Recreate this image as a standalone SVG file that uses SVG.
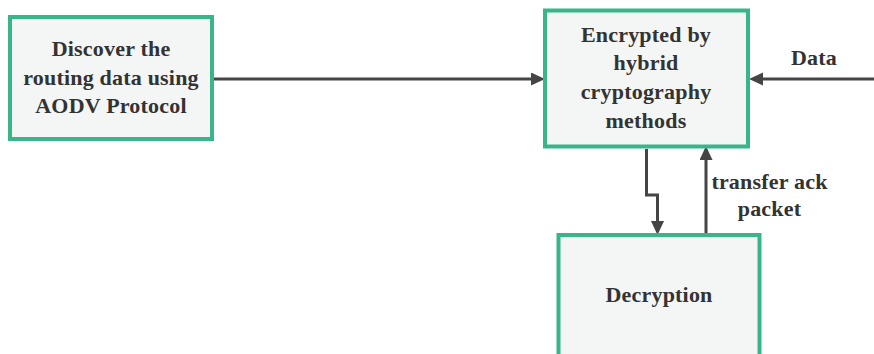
<svg xmlns="http://www.w3.org/2000/svg" width="874" height="354" viewBox="0 0 874 354">
<style>
.box{fill:#f3f6f5;stroke:#38b68a;stroke-width:4}
.t{font-family:"Liberation Serif","Times New Roman",serif;font-weight:bold;font-size:22px;letter-spacing:0.2px;fill:#333;text-anchor:middle}
.c{fill:none;stroke:#454545;stroke-width:3}
</style>
<defs>
<marker id="ah" markerUnits="userSpaceOnUse" markerWidth="16" markerHeight="14" refX="1" refY="6.5" orient="auto">
<path d="M0,0 L14,6.5 L0,13 z" fill="#454545"/>
</marker>
</defs>
<rect width="874" height="354" fill="#ffffff"/>
<g id="connectors">
<path class="c" d="M214,79 H532" marker-end="url(#ah)"/>
<path class="c" d="M874,79 H762" marker-end="url(#ah)"/>
<path class="c" d="M646.5,149 V195 H657.5 V222" marker-end="url(#ah)"/>
<path class="c" d="M706,235 V159" marker-end="url(#ah)"/>
</g>
<g id="discover">
<rect class="box" x="10" y="17" width="202" height="122"/>
<text class="t" x="111" y="56">Discover the</text>
<text class="t" x="111" y="85">routing data using</text>
<text class="t" x="111" y="113">AODV Protocol</text>
</g>
<g id="encrypt">
<rect class="box" x="545" y="10.5" width="203" height="136"/>
<text class="t" x="646" y="42">Encrypted by</text>
<text class="t" x="646" y="70">hybrid</text>
<text class="t" x="646" y="99">cryptography</text>
<text class="t" x="646" y="128">methods</text>
</g>
<g id="decrypt">
<rect class="box" x="558.5" y="235" width="201" height="135"/>
<text class="t" x="659" y="302">Decryption</text>
</g>
<g id="labels">
<text class="t" x="814" y="65">Data</text>
<text class="t" x="769.5" y="189">transfer ack</text>
<text class="t" x="769.5" y="216">packet</text>
</g>
</svg>
